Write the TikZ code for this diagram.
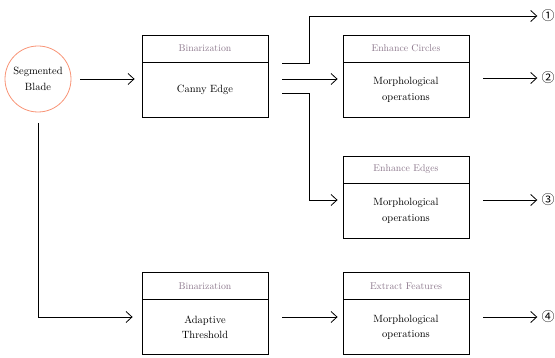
\documentclass[tikz,border=0pt]{standalone}
\usepackage{fontspec}
\newfontfamily\symfont{Noto Sans CJK SC}
\usetikzlibrary{arrows.meta,calc}
\definecolor{hdrcol}{RGB}{140,120,140}
\definecolor{circcol}{RGB}{248,148,118}
\tikzset{
  box/.style={draw, line width=0.8pt, minimum width=126pt, minimum height=82pt, inner sep=0pt},
  hdr/.style={draw, line width=0.8pt, minimum width=126pt, minimum height=27pt, inner sep=0pt, text=hdrcol, font=\fontsize{9.8}{11}\selectfont, anchor=north},
  txt/.style={align=center, inner sep=0pt, font=\fontsize{10.5}{15.5}\selectfont},
  arr/.style={line width=0.8pt, -{Straight Barb[length=6pt,width=11pt,line width=0.8pt]}},
  num/.style={inner sep=0pt, font=\symfont\fontsize{13}{13}\selectfont},
}
\begin{document}
\begin{tikzpicture}[x=1pt,y=-1pt]
\useasboundingbox (0,0) rectangle (555,358);
% source
\node[draw=circcol, line width=0.8pt, circle, minimum size=66pt, inner sep=0pt, txt] (c) at (38,79) {Segmented\\Blade};
% boxes
\node[box] (b1) at (205,76) {};
\node[hdr] (b1h) at (b1.north) {Binarization};
\node[txt] (b1t) at ($(b1h.south)!0.5!(b1.south)$) {Canny Edge};

\node[box] (b2) at (406,76) {};
\node[hdr] (b2h) at (b2.north) {Enhance Circles};
\node[txt] (b2t) at ($(b2h.south)!0.5!(b2.south)$) {Morphological\\operations};

\node[box] (b3) at (406,197) {};
\node[hdr] (b3h) at (b3.north) {Enhance Edges};
\node[txt] (b3t) at ($(b3h.south)!0.5!(b3.south)$) {Morphological\\operations};

\node[box] (b4) at (205,313.5) {};
\node[hdr] (b4h) at (b4.north) {Binarization};
\node[txt] (b4t) at ($(b4h.south)!0.5!(b4.south)$) {Adaptive\\Threshold};

\node[box] (b5) at (406,313.5) {};
\node[hdr] (b5h) at (b5.north) {Extract Features};
\node[txt] (b5t) at ($(b5h.south)!0.5!(b5.south)$) {Morphological\\operations};

% outputs
\node[num] (n1) at (548,16) {①};
\node[num] (n2) at (548,78) {②};
\node[num] (n3) at (548,200) {③};
\node[num] (n4) at (548,317) {④};

% coordinates
\coordinate (o1) at (282,63);
\coordinate (o2) at (282,79);
\coordinate (o3) at (282,93);
\coordinate (cs) at (38,123);

% connectors
\draw[arr] ([xshift=9pt]c.east) -- ([xshift=-7pt]b1.west |- c.east);
\draw[arr] (o1) -- (309,63) |- ([xshift=-4pt]n1.west);
\draw[arr] (o2) -- ([xshift=-5pt]b2.west |- o2);
\draw[arr] (o3) -- (309,93) |- ([xshift=-5pt]b3.west |- n3);
\draw[arr] ([xshift=14pt]b2.east |- n2) -- ([xshift=-4pt]n2.west);
\draw[arr] ([xshift=14pt]b3.east |- n3) -- ([xshift=-4pt]n3.west);
\draw[arr] (cs) |- ([xshift=-9pt]b4.west |- n4);
\draw[arr] ([xshift=14pt]b4.east |- n4) -- ([xshift=-5pt]b5.west |- n4);
\draw[arr] ([xshift=14pt]b5.east |- n4) -- ([xshift=-4pt]n4.west);
\end{tikzpicture}
\end{document}
